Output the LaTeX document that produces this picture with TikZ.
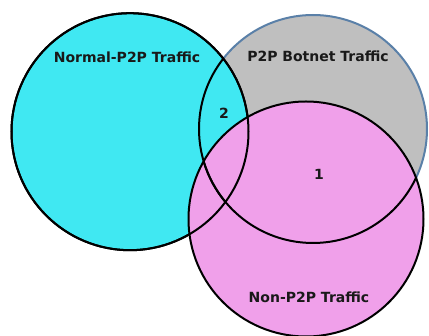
\documentclass[tikz,border=0pt]{standalone}
\usepackage{fontspec}
\setmainfont{DejaVu Sans}
\definecolor{setcyan}{HTML}{40E8F2}
\definecolor{setgray}{HTML}{BFBFBF}
\definecolor{setpink}{HTML}{F0A0EA}
\definecolor{rimblue}{HTML}{5A80A8}
\tikzset{
  rim/.style={line width=2pt},
  setlabel/.style={font=\bfseries\fontsize{14}{16}\selectfont, text=black!90, inner sep=0pt}
}
\begin{document}
\begin{tikzpicture}[x=1pt,y=-1pt]
\useasboundingbox (0,0) rectangle (429,336);
\def\cyanc{(130,131.7) circle[radius=118.5]}
\def\grayc{(313,129) circle[radius=114]}
\def\pinkc{(306,219) circle[radius=117.5]}
% P2P botnet set
\fill[setgray] \grayc;
\draw[rim, rimblue] \grayc;
% normal P2P set
\fill[setcyan] \cyanc;
\draw[rim] \cyanc;
% non-P2P set
\fill[setpink] \pinkc;
\draw[rim] \pinkc;
\draw[rim] \cyanc;
% botnet boundary inside the other sets
\begin{scope}
  \clip \cyanc;
  \draw[rim] \grayc;
\end{scope}
\begin{scope}
  \clip \pinkc;
  \draw[rim] \grayc;
\end{scope}
% labels
\node[setlabel] (normal) at (127,57) {Normal-P2P Traffic};
\node[setlabel] (botnet) at (318,56) {P2P Botnet Traffic};
\node[setlabel] (nonp2p) at (309,297) {Non-P2P Traffic};
\node[setlabel] (two) at (224,113) {2};
\node[setlabel] (one) at (319,174) {1};
\end{tikzpicture}
\end{document}
